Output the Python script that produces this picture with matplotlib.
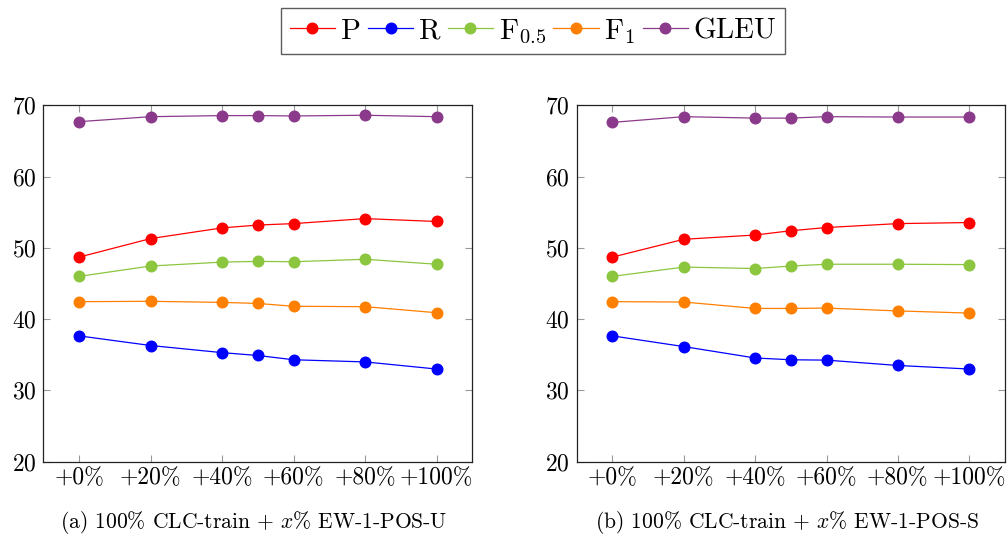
import matplotlib
matplotlib.use("Agg")
import matplotlib.pyplot as plt
from matplotlib.lines import Line2D

plt.rcParams['font.family'] = 'serif'
plt.rcParams['font.serif'] = ['cmr10', 'DejaVu Serif']
plt.rcParams['mathtext.fontset'] = 'cm'
plt.rcParams['axes.formatter.use_mathtext'] = True

x = [0, 20, 40, 50, 60, 80, 100]
xtick_vals = [0, 20, 40, 60, 80, 100]
xtick_labels = ['+0%', '+20%', '+40%', '+60%', '+80%', '+100%']
yticks = [20, 30, 40, 50, 60, 70]

series_names = ['P', 'R', r'F$_{0.5}$', r'F$_{1}$', 'GLEU']
colors = ['#ff0000', '#0000ff', '#8cc63f', '#ff7f00', '#8b3a8b']

# (a) 100% CLC-train + x% EW-1-POS-U
a_P = [48.7, 51.3, 52.8, 53.2, 53.4, 54.1, 53.7]
a_R = [37.65, 36.3, 35.3, 34.9, 34.3, 34.0, 33.0]
a_F05 = [46.0, 47.45, 48.0, 48.1, 48.05, 48.4, 47.7]
a_F1 = [42.45, 42.5, 42.35, 42.2, 41.8, 41.75, 40.9]
a_GLEU = [67.7, 68.4, 68.55, 68.55, 68.5, 68.6, 68.4]

# (b) 100% CLC-train + x% EW-1-POS-S
b_P = [48.7, 51.2, 51.8, 52.4, 52.85, 53.4, 53.55]
b_R = [37.65, 36.15, 34.55, 34.3, 34.25, 33.5, 33.0]
b_F05 = [46.0, 47.3, 47.1, 47.45, 47.7, 47.7, 47.65]
b_F1 = [42.45, 42.4, 41.5, 41.5, 41.55, 41.15, 40.85]
b_GLEU = [67.6, 68.4, 68.2, 68.2, 68.4, 68.35, 68.35]

captions = [r'(a) 100% CLC-train + $x$% EW-1-POS-U',
            r'(b) 100% CLC-train + $x$% EW-1-POS-S']

fig = plt.figure(figsize=(10.08, 5.36), dpi=100)
ax_a = fig.add_axes([0.043, 0.1386, 0.4256, 0.665])
ax_b = fig.add_axes([0.5721, 0.1386, 0.4249, 0.665])

for ax, data, cap in [(ax_a, [a_P, a_R, a_F05, a_F1, a_GLEU], captions[0]),
                      (ax_b, [b_P, b_R, b_F05, b_F1, b_GLEU], captions[1])]:
    for vals, c, n in zip(data, colors, series_names):
        ax.plot(x, vals, color=c, marker='o', markersize=7.6, linewidth=0.9, label=n)
    ax.set_xlim(-10, 110)
    ax.set_ylim(20, 70)
    ax.set_xticks(xtick_vals)
    ax.set_xticklabels(xtick_labels)
    ax.set_yticks(yticks)
    ax.tick_params(direction='in', top=True, right=True, length=5, width=0.8,
                   color='#999999', labelsize=17)
    ax.tick_params(axis='x', pad=4)
    ax.tick_params(axis='y', pad=5)
    for s in ax.spines.values():
        s.set_color('#222222')
        s.set_linewidth(0.9)
    ax.text(0.49, -0.17, cap, transform=ax.transAxes, ha='center', va='center',
            fontsize=15.5)

handles = [Line2D([0], [0], color=c, marker='o', markersize=7.6, linewidth=0.9)
           for c in colors]
fig.legend(handles, series_names, loc='center', bbox_to_anchor=(0.529, 0.942),
           ncol=5, fontsize=21, frameon=True, fancybox=False, edgecolor='#333333',
           handlelength=1.55, handletextpad=0.2, columnspacing=0.25, borderpad=0.3,
           borderaxespad=0)

fig.savefig('out.png', dpi=100)
